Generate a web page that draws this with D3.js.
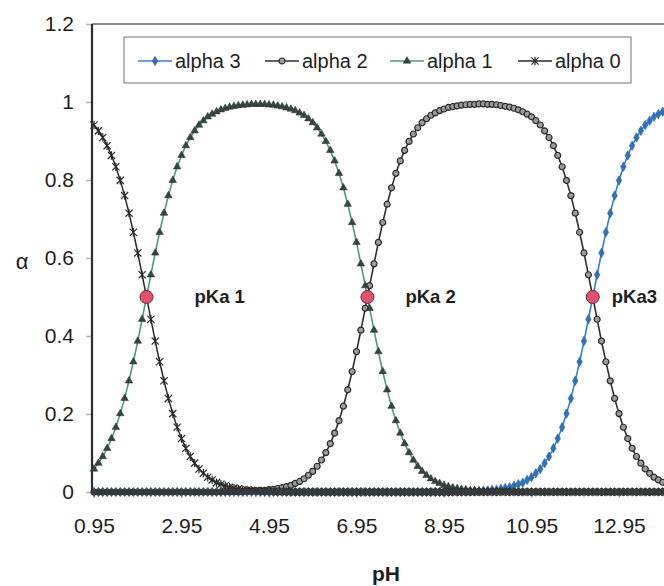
<!DOCTYPE html>
<html>
<head>
<meta charset="utf-8">
<script src="https://cdn.jsdelivr.net/npm/d3@7"></script>
<style>
  body { margin: 0; background: #fff; }
  svg { display: block; font-family: Arial, "Liberation Sans", sans-serif; }
</style>
</head>
<body>
<svg id="chart" width="664" height="586"></svg>
<script>
// pH grid of the distribution table (phosphoric acid)
const pH = [0.95,1.05,1.15,1.25,1.35,1.45,1.55,1.65,1.75,1.85,1.95,2.05,2.15,2.25,2.35,2.45,2.55,2.65,2.75,2.85,
  2.95,3.05,3.15,3.25,3.35,3.45,3.55,3.65,3.75,3.85,3.95,4.05,4.15,4.25,4.35,4.45,4.55,4.65,4.75,4.85,
  4.95,5.05,5.15,5.25,5.35,5.45,5.55,5.65,5.75,5.85,5.95,6.05,6.15,6.25,6.35,6.45,6.55,6.65,6.75,6.85,
  6.95,7.05,7.15,7.25,7.35,7.45,7.55,7.65,7.75,7.85,7.95,8.05,8.15,8.25,8.35,8.45,8.55,8.65,8.75,8.85,
  8.95,9.05,9.15,9.25,9.35,9.45,9.55,9.65,9.75,9.85,9.95,10.05,10.15,10.25,10.35,10.45,10.55,10.65,10.75,10.85,
  10.95,11.05,11.15,11.25,11.35,11.45,11.55,11.65,11.75,11.85,11.95,12.05,12.15,12.25,12.35,12.45,12.55,12.65,12.75,12.85,
  12.95,13.05,13.15,13.25,13.35,13.45,13.55,13.65,13.75,13.85,13.95,14.05];

// species fractions
const alpha0 = [0.941,0.926,0.909,0.888,0.863,0.834,0.799,0.760,0.715,0.666,
  0.613,0.557,0.500,0.443,0.387,0.334,0.285,0.240,0.201,0.166,
  0.137,0.112,0.091,0.074,0.059,0.048,0.038,0.031,0.024,0.020,
  0.016,0.012,0.010,0.008,0.006,0.005,0.004,0.003,0.002,0.002,
  0.002,0.001,0.001,0.001,0.001,0,0,0,0,0,
  0,0,0,0,0,0,0,0,0,0, 0,0,0,0,0,0,0,0,0,0,
  0,0,0,0,0,0,0,0,0,0, 0,0,0,0,0,0,0,0,0,0,
  0,0,0,0,0,0,0,0,0,0, 0,0,0,0,0,0,0,0,0,0,
  0,0,0,0,0,0,0,0,0,0, 0,0,0,0,0,0,0,0,0,0,
  0,0];
const alpha1 = [0.059,0.074,0.091,0.112,0.137,0.166,0.201,0.240,0.285,0.334,
  0.387,0.443,0.500,0.557,0.613,0.666,0.715,0.760,0.799,0.834,
  0.863,0.888,0.909,0.926,0.941,0.952,0.962,0.969,0.975,0.980,
  0.984,0.987,0.989,0.991,0.992,0.993,0.994,0.994,0.994,0.994,
  0.993,0.992,0.990,0.988,0.985,0.982,0.978,0.972,0.966,0.957,
  0.947,0.934,0.918,0.899,0.876,0.849,0.817,0.780,0.738,0.691,
  0.640,0.585,0.529,0.471,0.415,0.360,0.309,0.262,0.220,0.183,
  0.151,0.124,0.101,0.082,0.066,0.053,0.043,0.034,0.027,0.022,
  0.017,0.014,0.011,0.009,0.007,0.006,0.004,0.004,0.003,0.002,
  0.002,0.001,0.001,0.001,0.001,0.001,0,0,0,0,
  0,0,0,0,0,0,0,0,0,0, 0,0,0,0,0,0,0,0,0,0,
  0,0,0,0,0,0,0,0,0,0, 0,0];
const alpha2 = [0,0,0,0,0,0,0,0,0,0, 0,0,0,0,0,0,0,0,0,0, 0,0,0,0,0,0,0,0,0,0,
  0.001,0.001,0.001,0.001,0.001,0.002,0.002,0.003,0.004,0.004,
  0.006,0.007,0.009,0.011,0.014,0.017,0.022,0.027,0.034,0.043,
  0.053,0.066,0.082,0.101,0.124,0.151,0.183,0.220,0.262,0.309,
  0.360,0.415,0.471,0.529,0.585,0.640,0.691,0.738,0.780,0.817,
  0.849,0.876,0.899,0.918,0.934,0.947,0.957,0.966,0.972,0.978,
  0.982,0.986,0.988,0.990,0.992,0.993,0.994,0.994,0.995,0.995,
  0.994,0.994,0.993,0.991,0.989,0.987,0.984,0.980,0.975,0.969,
  0.962,0.952,0.941,0.926,0.909,0.888,0.863,0.834,0.799,0.760,
  0.715,0.666,0.613,0.557,0.500,0.443,0.387,0.334,0.285,0.240,
  0.201,0.166,0.137,0.112,0.091,0.074,0.059,0.048,0.038,0.031,
  0.025,0.020];
const alpha3 = [0,0,0,0,0,0,0,0,0,0, 0,0,0,0,0,0,0,0,0,0,
  0,0,0,0,0,0,0,0,0,0, 0,0,0,0,0,0,0,0,0,0,
  0,0,0,0,0,0,0,0,0,0, 0,0,0,0,0,0,0,0,0,0,
  0,0,0,0,0,0,0,0,0,0, 0,0,0,0,0,0,0,0,0,0,
  0,0,0.001,0.001,0.001,0.001,0.002,0.002,0.002,0.003,
  0.004,0.005,0.006,0.008,0.010,0.012,0.016,0.020,0.024,0.031,
  0.038,0.048,0.059,0.074,0.091,0.112,0.137,0.166,0.201,0.240,
  0.285,0.334,0.387,0.443,0.500,0.557,0.613,0.666,0.715,0.760,
  0.799,0.834,0.863,0.888,0.909,0.926,0.941,0.952,0.962,0.969,
  0.975,0.980];

const seriesNames = ["alpha 3", "alpha 2", "alpha 1", "alpha 0"];
const xTickValues = [0.95, 2.95, 4.95, 6.95, 8.95, 10.95, 12.95];
const yTickValues = [0, 0.2, 0.4, 0.6, 0.8, 1, 1.2];

// half-dissociation points
const pKaValues = [2.15, 7.20, 12.35];
const pKaFractions = [0.5, 0.5, 0.5];
const pKaLabels = ["pKa 1", "pKa 2", "pKa3"];

// ---------- layout ----------
const svg = d3.select("#chart");
const W = 664, H = 586;
const plot = { left: 92, top: 24, bottom: 492 };

const x = d3.scaleLinear().domain([0.95, 12.95]).range([94, 619]);
const y = d3.scaleLinear().domain([0, 1.2]).range([plot.bottom, plot.top]);
const plotRight = x(14.1);

svg.append("rect").attr("width", W).attr("height", H).attr("fill", "#fff");

// plot frame, top edge
svg.append("line")
  .attr("x1", plot.left).attr("x2", plotRight)
  .attr("y1", plot.top).attr("y2", plot.top)
  .attr("stroke", "#6a6a6a").attr("stroke-width", 1.5);

const FONT = "Arial, 'Liberation Sans', sans-serif";

// y axis
const yAxis = svg.append("g")
  .attr("transform", `translate(${plot.left},0)`)
  .call(d3.axisLeft(y).tickValues(yTickValues).tickFormat(d => String(d)).tickSize(6).tickPadding(12));
yAxis.select(".domain").remove();
yAxis.selectAll(".tick line").attr("stroke", "#b5b5b5").attr("stroke-width", 1.5);
yAxis.selectAll(".tick text").attr("font-size", 21).attr("fill", "#1e1e1e").attr("font-family", FONT);

// x axis
const xAxis = svg.append("g")
  .attr("transform", `translate(0,${plot.bottom})`)
  .call(d3.axisBottom(x).tickValues(xTickValues).tickFormat(d => String(d)).tickSize(6).tickPadding(20));
xAxis.select(".domain").remove();
xAxis.selectAll(".tick line").attr("stroke", "#b5b5b5").attr("stroke-width", 1.5);
xAxis.selectAll(".tick text").attr("font-size", 21).attr("fill", "#1e1e1e").attr("font-family", FONT);

// left axis line
svg.append("line")
  .attr("x1", plot.left).attr("x2", plot.left)
  .attr("y1", plot.top).attr("y2", plot.bottom)
  .attr("stroke", "#2e2e2e").attr("stroke-width", 2.2);

// axis titles
svg.append("text")
  .attr("x", 22).attr("y", 269)
  .attr("text-anchor", "middle")
  .attr("font-size", 22).attr("fill", "#1e1e1e")
  .text("α");
svg.append("text")
  .attr("x", 386).attr("y", 581)
  .attr("text-anchor", "middle")
  .attr("font-size", 21).attr("font-weight", "bold").attr("fill", "#1e1e1e")
  .text("pH");

// ---------- series ----------
const starPath = "M-3.6,-3.6L3.6,3.6M-3.6,3.6L3.6,-3.6M0,-4.2L0,4.2";
const styles = {
  "alpha 3": { values: alpha3, line: "#3b7fc4", width: 1.6,
    marker: sel => sel.append("path").attr("d", d3.symbol(d3.symbolDiamond, 26)())
      .attr("fill", "#2f72b6").attr("stroke", "#2a66a3").attr("stroke-width", 0.6) },
  "alpha 2": { values: alpha2, line: "#2f2f2f", width: 1.6,
    marker: sel => sel.append("circle").attr("r", 3)
      .attr("fill", "#9c9c9c").attr("stroke", "#2a2a2a").attr("stroke-width", 1.2) },
  "alpha 1": { values: alpha1, line: "#4c9c82", width: 1.6,
    marker: sel => sel.append("path").attr("d", d3.symbol(d3.symbolTriangle, 24)())
      .attr("fill", "#36453f").attr("stroke", "#2c3a35").attr("stroke-width", 0.6) },
  "alpha 0": { values: alpha0, line: "#2a2a2a", width: 1.5,
    marker: sel => sel.append("path").attr("d", starPath)
      .attr("fill", "none").attr("stroke", "#2a2a2a").attr("stroke-width", 1.2) }
};

const lineGen = d3.line().x(d => x(d[0])).y(d => y(d[1]));
const series = svg.append("g");

seriesNames.forEach(name => {
  const s = styles[name];
  const pts = pH.map((p, i) => [p, s.values[i]]);
  const g = series.append("g");
  g.append("path")
    .datum(pts)
    .attr("d", lineGen)
    .attr("fill", "none")
    .attr("stroke", s.line)
    .attr("stroke-width", s.width)
    .attr("stroke-linejoin", "round");
  const m = g.selectAll("g.m").data(pts).join("g")
    .attr("class", "m")
    .attr("transform", d => `translate(${x(d[0])},${y(d[1])})`);
  s.marker(m);
});

// bottom axis line, heavy where the near-zero markers pile up
svg.append("line")
  .attr("x1", plot.left - 1).attr("x2", plotRight)
  .attr("y1", plot.bottom).attr("y2", plot.bottom)
  .attr("stroke", "#333b3a").attr("stroke-width", 5);

// pKa points and labels
const labelOffsets = [48, 38, 19];
const pk = svg.append("g");
pk.selectAll("circle").data(pKaValues).join("circle")
  .attr("cx", d => x(d))
  .attr("cy", (d, i) => y(pKaFractions[i]))
  .attr("r", 6.5)
  .attr("fill", "#e2506f")
  .attr("stroke", "#6d2a3a")
  .attr("stroke-width", 1);
pk.selectAll("text").data(pKaValues).join("text")
  .attr("x", (d, i) => x(d) + labelOffsets[i])
  .attr("y", (d, i) => y(pKaFractions[i]) + 6)
  .attr("font-size", 18.5).attr("font-weight", "bold").attr("fill", "#1e1e1e")
  .text((d, i) => pKaLabels[i]);

// ---------- legend ----------
const legend = svg.append("g");
legend.append("rect")
  .attr("x", 124).attr("y", 37).attr("width", 507).attr("height", 46)
  .attr("fill", "#fff").attr("stroke", "#8a8a8a").attr("stroke-width", 1.2);

const legendX = [138, 265, 390, 518];
seriesNames.forEach((name, i) => {
  const s = styles[name];
  const gx = legendX[i], gy = 61;
  const g = legend.append("g");
  g.append("line")
    .attr("x1", gx).attr("x2", gx + 34)
    .attr("y1", gy).attr("y2", gy)
    .attr("stroke", s.line).attr("stroke-width", s.width);
  const m = g.append("g").attr("transform", `translate(${gx + 17},${gy})`);
  s.marker(m);
  g.append("text")
    .attr("x", gx + 37).attr("y", gy + 7)
    .attr("font-size", 20).attr("fill", "#1e1e1e")
    .text(name);
});
</script>
</body>
</html>
